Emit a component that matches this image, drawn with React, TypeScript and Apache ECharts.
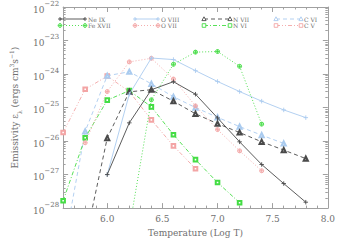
import React, { useEffect, useRef } from "react";
import * as echarts from "echarts";

// Temperature grid (Log T)
const temps = [5.6, 5.8, 6.0, 6.2, 6.4, 6.6, 6.8, 7.0, 7.2, 7.4, 7.6, 7.8];

// Emissivity values (ergs cm^3 s^-1), null = not plotted
const neIX = [null, null, 1.0e-27, 3.5e-26, 3.4e-25, 5.9e-25, 2.5e-25, 4.9e-26, 9.5e-27, 2.0e-27, 5.4e-28, 1.5e-28];
const feXVII = [null, null, null, 2.5e-29, 1.7e-25, 1.95e-24, 4.5e-24, 4.7e-24, 1.7e-24, 3.2e-26, null, null];
const oVIII = [null, null, 1.0e-27, 2.5e-25, 3.0e-24, 2.7e-24, 1.26e-24, 6.0e-25, 3.0e-25, 1.55e-25, 8.5e-26, 5.0e-26];
const oVII = [null, 8.9e-27, 3.0e-25, 2.3e-24, 2.95e-24, 7.1e-25, 1.12e-25, 2.2e-26, 5.1e-27, 1.3e-27, null, null];
const nVII = [null, 1.0e-29, 1.23e-26, 2.95e-25, 3.4e-25, 1.55e-25, 6.5e-26, 3.3e-26, 1.8e-26, 9.5e-27, 5.4e-27, 3.0e-27];
const nVI = [1.66e-28, 1.26e-26, 1.66e-25, 3.2e-25, 1.05e-25, 1.55e-26, 2.8e-27, 5.8e-28, 1.45e-28, null, null, null];
const cVI = [5e-30, 1.95e-26, 8.9e-25, 1.17e-24, 5.1e-25, 2.1e-25, 1.0e-25, 5.1e-26, 2.7e-26, 1.5e-26, 8.5e-27, null];
const cV = [1.8e-26, 3.5e-25, 8.7e-25, 3.0e-25, 4.3e-26, 7.2e-27, 1.5e-27, null, null, null, null, null];

// Tick values
const xLabelTicks = [6.0, 6.5, 7.0, 7.5, 8.0];
const xMinorTicks = [5.6, 5.7, 5.8, 5.9, 6.0, 6.1, 6.2, 6.3, 6.4, 6.5, 6.6, 6.7, 6.8, 6.9, 7.0, 7.1, 7.2, 7.3, 7.4, 7.5, 7.6, 7.7, 7.8, 7.9, 8.0];
const yDecadeExps = [-28, -27, -26, -25, -24, -23, -22];
const yMinorMults = [2, 3, 4, 5, 6, 7, 8, 9];

const DARK = "#4a4a4a";
const GREEN = "#44dd44";
const BLUE = "#aacbef";
const PINK = "#f3a5a5";
const AXIS = "#a0a0a0";
const TEXT = "#707070";
const FONT = "DejaVu Serif";

const PLUS = "path://M0,5L10,5M5,0L5,10";
const OPLUS = "path://M0,5A5,5,0,1,1,10,5A5,5,0,1,1,0,5ZM0,5L10,5M5,0L5,10";

type Spec = {
  name: string;
  values: (number | null)[];
  color: string;
  dash: any;
  marker: "plus" | "oplus" | "tri" | "square";
  lx: number;
  lw: number;
  row: number;
};

const specs: Spec[] = [
  { name: "Ne IX", values: neIX, color: DARK, dash: "solid", marker: "plus", lx: 60, lw: 25, row: 0 },
  { name: "Fe XVII", values: feXVII, color: GREEN, dash: [1, 2], marker: "oplus", lx: 60, lw: 25, row: 1 },
  { name: "O VIII", values: oVIII, color: BLUE, dash: "solid", marker: "plus", lx: 135, lw: 23, row: 0 },
  { name: "O VII", values: oVII, color: PINK, dash: [1, 2], marker: "oplus", lx: 135, lw: 23, row: 1 },
  { name: "N VII", values: nVII, color: DARK, dash: [4, 3], marker: "tri", lx: 204, lw: 26, row: 0 },
  { name: "N VI", values: nVI, color: GREEN, dash: [4, 2, 1, 2], marker: "square", lx: 204, lw: 26, row: 1 },
  { name: "C VI", values: cVI, color: BLUE, dash: [4, 3], marker: "tri", lx: 276, lw: 25, row: 0 },
  { name: "C V", values: cV, color: PINK, dash: [4, 2, 1, 2, 1, 2], marker: "square", lx: 276, lw: 25, row: 1 },
];

const ROWS = [19, 25.5];

function markerGraphic(kind: string, x: number, y: number, color: string): any[] {
  const st = { stroke: color, lineWidth: 0.9, fill: "#fff" };
  if (kind === "plus") {
    return [
      { type: "line", shape: { x1: x - 2, y1: y, x2: x + 2, y2: y }, style: { stroke: color, lineWidth: 0.9 } },
      { type: "line", shape: { x1: x, y1: y - 2, x2: x, y2: y + 2 }, style: { stroke: color, lineWidth: 0.9 } },
    ];
  }
  if (kind === "oplus") {
    return [
      { type: "circle", shape: { cx: x, cy: y, r: 1.9 }, style: { stroke: color, lineWidth: 0.9, fill: "none" } },
      { type: "line", shape: { x1: x - 1.9, y1: y, x2: x + 1.9, y2: y }, style: { stroke: color, lineWidth: 0.8 } },
      { type: "line", shape: { x1: x, y1: y - 1.9, x2: x, y2: y + 1.9 }, style: { stroke: color, lineWidth: 0.8 } },
    ];
  }
  if (kind === "tri") {
    return [{ type: "polygon", shape: { points: [[x, y - 2.2], [x - 2.1, y + 1.6], [x + 2.1, y + 1.6]] }, style: st }];
  }
  return [{ type: "rect", shape: { x: x - 1.8, y: y - 1.8, width: 3.6, height: 3.6 }, style: st }];
}

function buildLegend(): any[] {
  const els: any[] = [];
  specs.forEach((s) => {
    const y = ROWS[s.row];
    const x1 = s.lx;
    const x2 = s.lx + s.lw;
    els.push({
      type: "line",
      shape: { x1, y1: y, x2, y2: y },
      style: { stroke: s.color, lineWidth: 0.9, lineDash: s.dash === "solid" ? null : s.dash },
      z: 100,
    });
    markerGraphic(s.marker, x1, y, s.color).forEach((m) => els.push({ ...m, z: 101 }));
    markerGraphic(s.marker, x2, y, s.color).forEach((m) => els.push({ ...m, z: 101 }));
    els.push({
      type: "text",
      x: x2 + 3,
      y,
      style: { text: s.name, fill: TEXT, font: `6px "${FONT}"`, verticalAlign: "middle", align: "left" },
      z: 101,
    });
  });
  return els;
}

function symbolFor(kind: string) {
  if (kind === "plus") return { symbol: PLUS, symbolSize: 4.5 };
  if (kind === "oplus") return { symbol: OPLUS, symbolSize: 4 };
  if (kind === "tri") return { symbol: "emptyTriangle", symbolSize: 4.2 };
  return { symbol: "emptyRect", symbolSize: 3.6 };
}

// y axis works in log10 space (values are plotted as their base-10 logarithm)
const yDecades = yDecadeExps.slice();
const yMinor: number[] = [];
yDecadeExps.slice(0, -1).forEach((e) => yMinorMults.forEach((m) => yMinor.push(e + Math.log10(m))));

export default function App() {
  const ref = useRef<HTMLDivElement>(null);
  useEffect(() => {
    if (!ref.current) return;
    const chart = echarts.init(ref.current, null, { renderer: "svg" });

    const series = specs.map((s, idx) => {
      const sym = symbolFor(s.marker);
      const isPath = s.marker === "plus" || s.marker === "oplus";
      return {
        type: "line",
        name: s.name,
        data: temps
          .map((t, i) => (s.values[i] == null ? null : [t, Math.log10(s.values[i] as number)]))
          .filter((d) => d !== null),
        xAxisIndex: 0,
        yAxisIndex: 0,
        symbol: sym.symbol,
        symbolSize: sym.symbolSize,
        showAllSymbol: true,
        clip: true,
        z: 10 - idx,
        lineStyle: { color: s.color, width: 0.9, type: s.dash },
        itemStyle: isPath
          ? { color: "rgba(0,0,0,0)", borderColor: s.color, borderWidth: 0.9 }
          : { color: s.color, borderColor: s.color, borderWidth: 0.9 },
        emphasis: { disabled: true },
      };
    });

    const xCommon = { type: "value", min: 5.6, max: 8.0, splitLine: { show: false } };
    const yCommon = { type: "value", min: -28, max: -22, splitLine: { show: false } };
    const lineStyle = { color: AXIS, width: 1 };

    const option: any = {
      animation: false,
      grid: { left: 42, right: 6.5, top: 5, bottom: 27, containLabel: false },
      xAxis: [
        {
          ...xCommon,
          position: "bottom",
          axisLine: { show: true, lineStyle },
          axisTick: { show: true, inside: true, length: 2.5, lineStyle, customValues: xMinorTicks },
          axisLabel: {
            show: true,
            customValues: xLabelTicks,
            formatter: (v: number) => v.toFixed(1),
            color: TEXT,
            fontFamily: FONT,
            fontSize: 9,
            margin: 6,
          },
          name: "Temperature (Log T)",
          nameLocation: "middle",
          nameGap: 16,
          nameTextStyle: { color: TEXT, fontFamily: FONT, fontSize: 9 },
        },
        {
          ...xCommon,
          position: "bottom",
          axisLine: { show: false },
          axisTick: { show: true, inside: true, length: 5, lineStyle, customValues: xLabelTicks },
          axisLabel: { show: false },
        },
        {
          ...xCommon,
          position: "top",
          axisLine: { show: true, lineStyle },
          axisTick: { show: true, inside: true, length: 2.5, lineStyle, customValues: xMinorTicks },
          axisLabel: { show: false },
        },
        {
          ...xCommon,
          position: "top",
          axisLine: { show: false },
          axisTick: { show: true, inside: true, length: 5, lineStyle, customValues: xLabelTicks },
          axisLabel: { show: false },
        },
      ],
      yAxis: [
        {
          ...yCommon,
          position: "left",
          axisLine: { show: true, lineStyle },
          axisTick: { show: true, inside: true, length: 2.5, lineStyle, customValues: yMinor },
          axisLabel: {
            show: true,
            customValues: yDecades,
            formatter: (v: number) => {
              const e = Math.round(v);
              return `{b|10}{s|${e < 0 ? "\u2212" + -e : e}}`;
            },
            margin: 4,
            rich: {
              b: { color: TEXT, fontFamily: FONT, fontSize: 9, lineHeight: 14, verticalAlign: "bottom" },
              s: { color: TEXT, fontFamily: FONT, fontSize: 7, lineHeight: 14, verticalAlign: "top" },
            },
          },
          name: "{n|Emissivity ε}{sub|λ}{n| (ergs cm}{sup|3}{n|s}{sup|\u22121}{n|)}",
          nameLocation: "middle",
          nameGap: 33,
          nameRotate: 90,
          nameTextStyle: {
            rich: {
              n: { color: TEXT, fontFamily: FONT, fontSize: 9, lineHeight: 14, verticalAlign: "middle" },
              sub: { color: TEXT, fontFamily: FONT, fontSize: 6, lineHeight: 14, verticalAlign: "bottom" },
              sup: { color: TEXT, fontFamily: FONT, fontSize: 6, lineHeight: 14, verticalAlign: "top" },
            },
          },
        },
        {
          ...yCommon,
          position: "left",
          axisLine: { show: false },
          axisTick: { show: true, inside: true, length: 5, lineStyle, customValues: yDecades },
          axisLabel: { show: false },
        },
        {
          ...yCommon,
          position: "right",
          axisLine: { show: true, lineStyle },
          axisTick: { show: true, inside: true, length: 2.5, lineStyle, customValues: yMinor },
          axisLabel: { show: false },
        },
        {
          ...yCommon,
          position: "right",
          axisLine: { show: false },
          axisTick: { show: true, inside: true, length: 5, lineStyle, customValues: yDecades },
          axisLabel: { show: false },
        },
      ],
      series,
      graphic: buildLegend(),
    };
    chart.setOption(option);
    return () => chart.dispose();
  }, []);
  return <div ref={ref} style={{ width: 338, height: 242, position: "absolute", left: 0, top: 0, background: "#fff" }} />;
}
